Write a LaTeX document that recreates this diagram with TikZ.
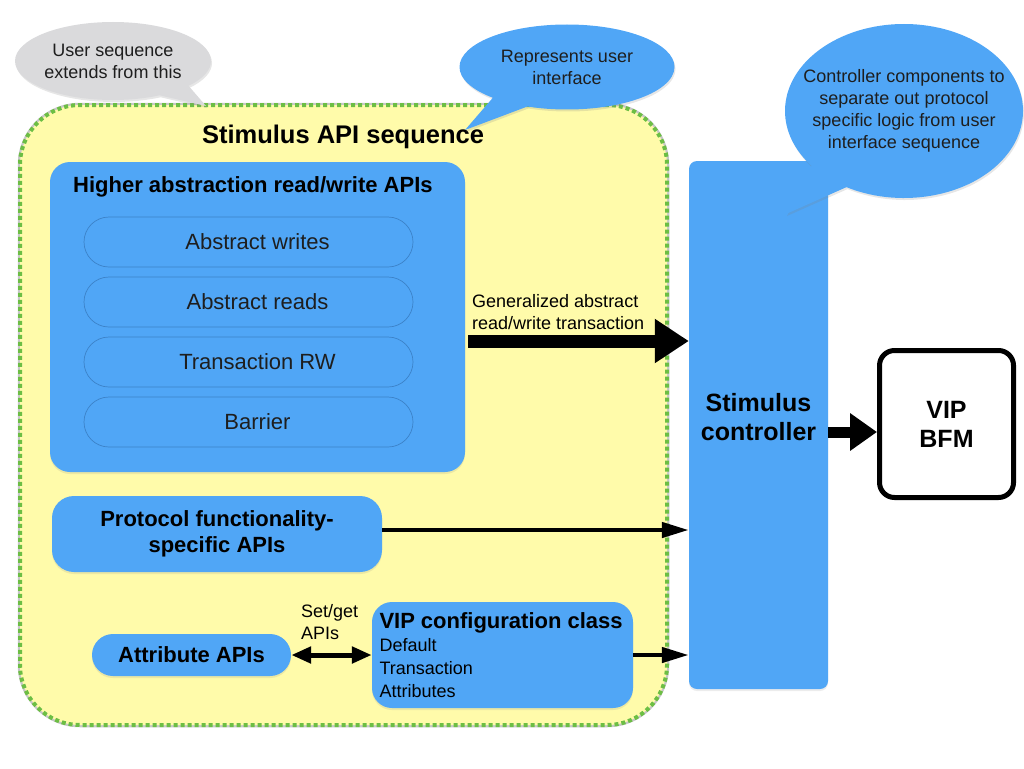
\documentclass[tikz,border=0pt]{standalone}
\usepackage{fontspec}
\setmainfont{Liberation Sans}
\usetikzlibrary{arrows.meta,shapes.callouts,shadows}

\definecolor{apiblue}{RGB}{80,166,246}
\definecolor{pilledge}{RGB}{60,130,200}
\definecolor{seqyellow}{RGB}{255,251,170}
\definecolor{dotgreen}{RGB}{108,190,68}
\definecolor{notegray}{RGB}{218,218,220}
\definecolor{inkgray}{RGB}{30,30,30}

\newcommand\txtsmall{\fontsize{18}{22}\selectfont}
\newcommand\txtmid{\fontsize{22}{26}\selectfont}
\newcommand\txtbig{\fontsize{25}{29}\selectfont}

\begin{document}
\begin{tikzpicture}[x=1pt,y=-1pt,
    box/.style={fill=apiblue,rounded corners=20pt,inner sep=0pt,
      drop shadow={opacity=0.15,shadow xshift=0pt,shadow yshift=-2pt}},
    pill/.style={fill=apiblue,draw=pilledge,line width=0.7pt,rounded corners=25pt,
      minimum width=329pt,minimum height=50pt,font=\txtmid,text=inkgray},
    note/.style={ellipse callout,callout pointer arc=22,inner sep=0pt,
      drop shadow={opacity=0.2,shadow xshift=1pt,shadow yshift=-2pt}},
    notetext/.style={font=\txtsmall,align=center,text=inkgray,inner sep=0pt},
    bigarrow/.style={line width=13pt,-{Triangle[length=34pt,width=42pt]}},
    midarrow/.style={line width=11pt,-{Triangle[length=27pt,width=36pt]}},
    thinarrow/.style={line width=4.5pt,-{Triangle[length=27pt,width=15pt]}},
    dblarrow/.style={line width=5pt,{Triangle[length=20pt,width=16pt]}-{Triangle[length=20pt,width=16pt]}},
  ]
  \useasboundingbox (0,0) rectangle (1024,768);

  %% sequence area
  \node[fill=seqyellow,rounded corners=60pt,minimum width=647pt,minimum height=620pt,
    preaction={draw=black!22,solid,line width=4.5pt},
    draw=dotgreen,line width=4pt,dash pattern=on 4pt off 3pt] (seq) at (343.5,415) {};
  \node[font=\fontsize{25.5}{29}\selectfont\bfseries] (seqtitle) at (343,137) {Stimulus API sequence};

  %% higher abstraction APIs
  \node[box,minimum width=415pt,minimum height=310pt] (hier) at (257.5,317) {};
  \node[font=\txtmid\bfseries,anchor=west,inner sep=0pt] (hiertitle) at (73,187)
    {Higher abstraction read/write APIs};
  \foreach \y/\name/\txt in {242/wr/Abstract writes,302/rd/Abstract reads,
      362/trw/Transaction RW,422/bar/Barrier}
    \node[pill] (\name) at (248.5,\y) {\hspace*{18pt}\txt};

  %% other APIs
  \node[box,rounded corners=22pt,minimum width=330pt,minimum height=76pt,
    font=\txtmid\bfseries,align=center] (proto) at (217,534)
    {Protocol functionality-\\specific APIs};
  \node[box,rounded corners=21pt,minimum width=199pt,minimum height=42pt,
    font=\txtmid\bfseries] (attr) at (191.5,655) {Attribute APIs};
  \node[box,minimum width=261pt,minimum height=106pt,text width=246pt,align=left,
    font=\fontsize{18}{23}\selectfont] (cfg) at (502.5,655)
    {{\txtmid\bfseries VIP configuration class}\\Default\\Transaction\\Attributes};
  \node[font=\txtsmall,align=left,anchor=west,inner sep=0pt] (setget) at (301,622)
    {Set/get\\APIs};

  %% controller and BFM
  \node[box,rounded corners=8pt,minimum width=139pt,minimum height=528pt] (ctrl) at (758.5,425) {};
  \node[font=\txtbig\bfseries,align=center,inner sep=0pt] (ctrltitle) at (758.5,417)
    {Stimulus\\controller};
  \node[fill=white,draw=black,line width=5pt,rounded corners=15pt,minimum width=134pt,
    minimum height=147pt,font=\txtbig\bfseries,align=center,
    drop shadow={opacity=0.2,shadow xshift=1pt,shadow yshift=-2pt}] (bfm) at (946.5,424) {VIP\\BFM};

  %% arrows
  \coordinate (rw) at (0,341);
  \coordinate (pr) at (0,530);
  \coordinate (bf) at (0,432);
  \draw[bigarrow,shorten <=3pt] (hier.east |- rw) -- (ctrl.west |- rw);
  \node[font=\txtsmall,align=left,anchor=west,inner sep=0pt] (rwlabel) at (472,312)
    {Generalized abstract\\read/write transaction};
  \draw[thinarrow] (proto.east |- pr) -- (ctrl.west |- pr);
  \draw[thinarrow] (cfg.east) -- (cfg.east -| ctrl.west);
  \draw[dblarrow] (attr.east) -- (cfg.west);
  \draw[midarrow] (ctrl.east |- bf) -- (bfm.west |- bf);

  %% callouts
  \node[note,fill=notegray,minimum width=196pt,minimum height=78pt,
    callout absolute pointer={(206,106)}] (usernote) at (113,61) {};
  \node[notetext] (usertext) at (usernote.center) {User sequence\\extends from this};
  \node[note,fill=apiblue,minimum width=215pt,minimum height=85pt,
    callout absolute pointer={(465,130)}] (uinote) at (567,67) {};
  \node[notetext] (uitext) at (uinote.center) {Represents user\\interface};
  \node[note,fill=apiblue,minimum width=238pt,minimum height=174pt,
    callout absolute pointer={(786,214)}] (ctrlnote) at (904,111) {};
  \node[notetext] (ctrltext) at (ctrlnote.center)
    {Controller components to\\separate out protocol\\specific logic from user\\interface sequence};
\end{tikzpicture}
\end{document}
